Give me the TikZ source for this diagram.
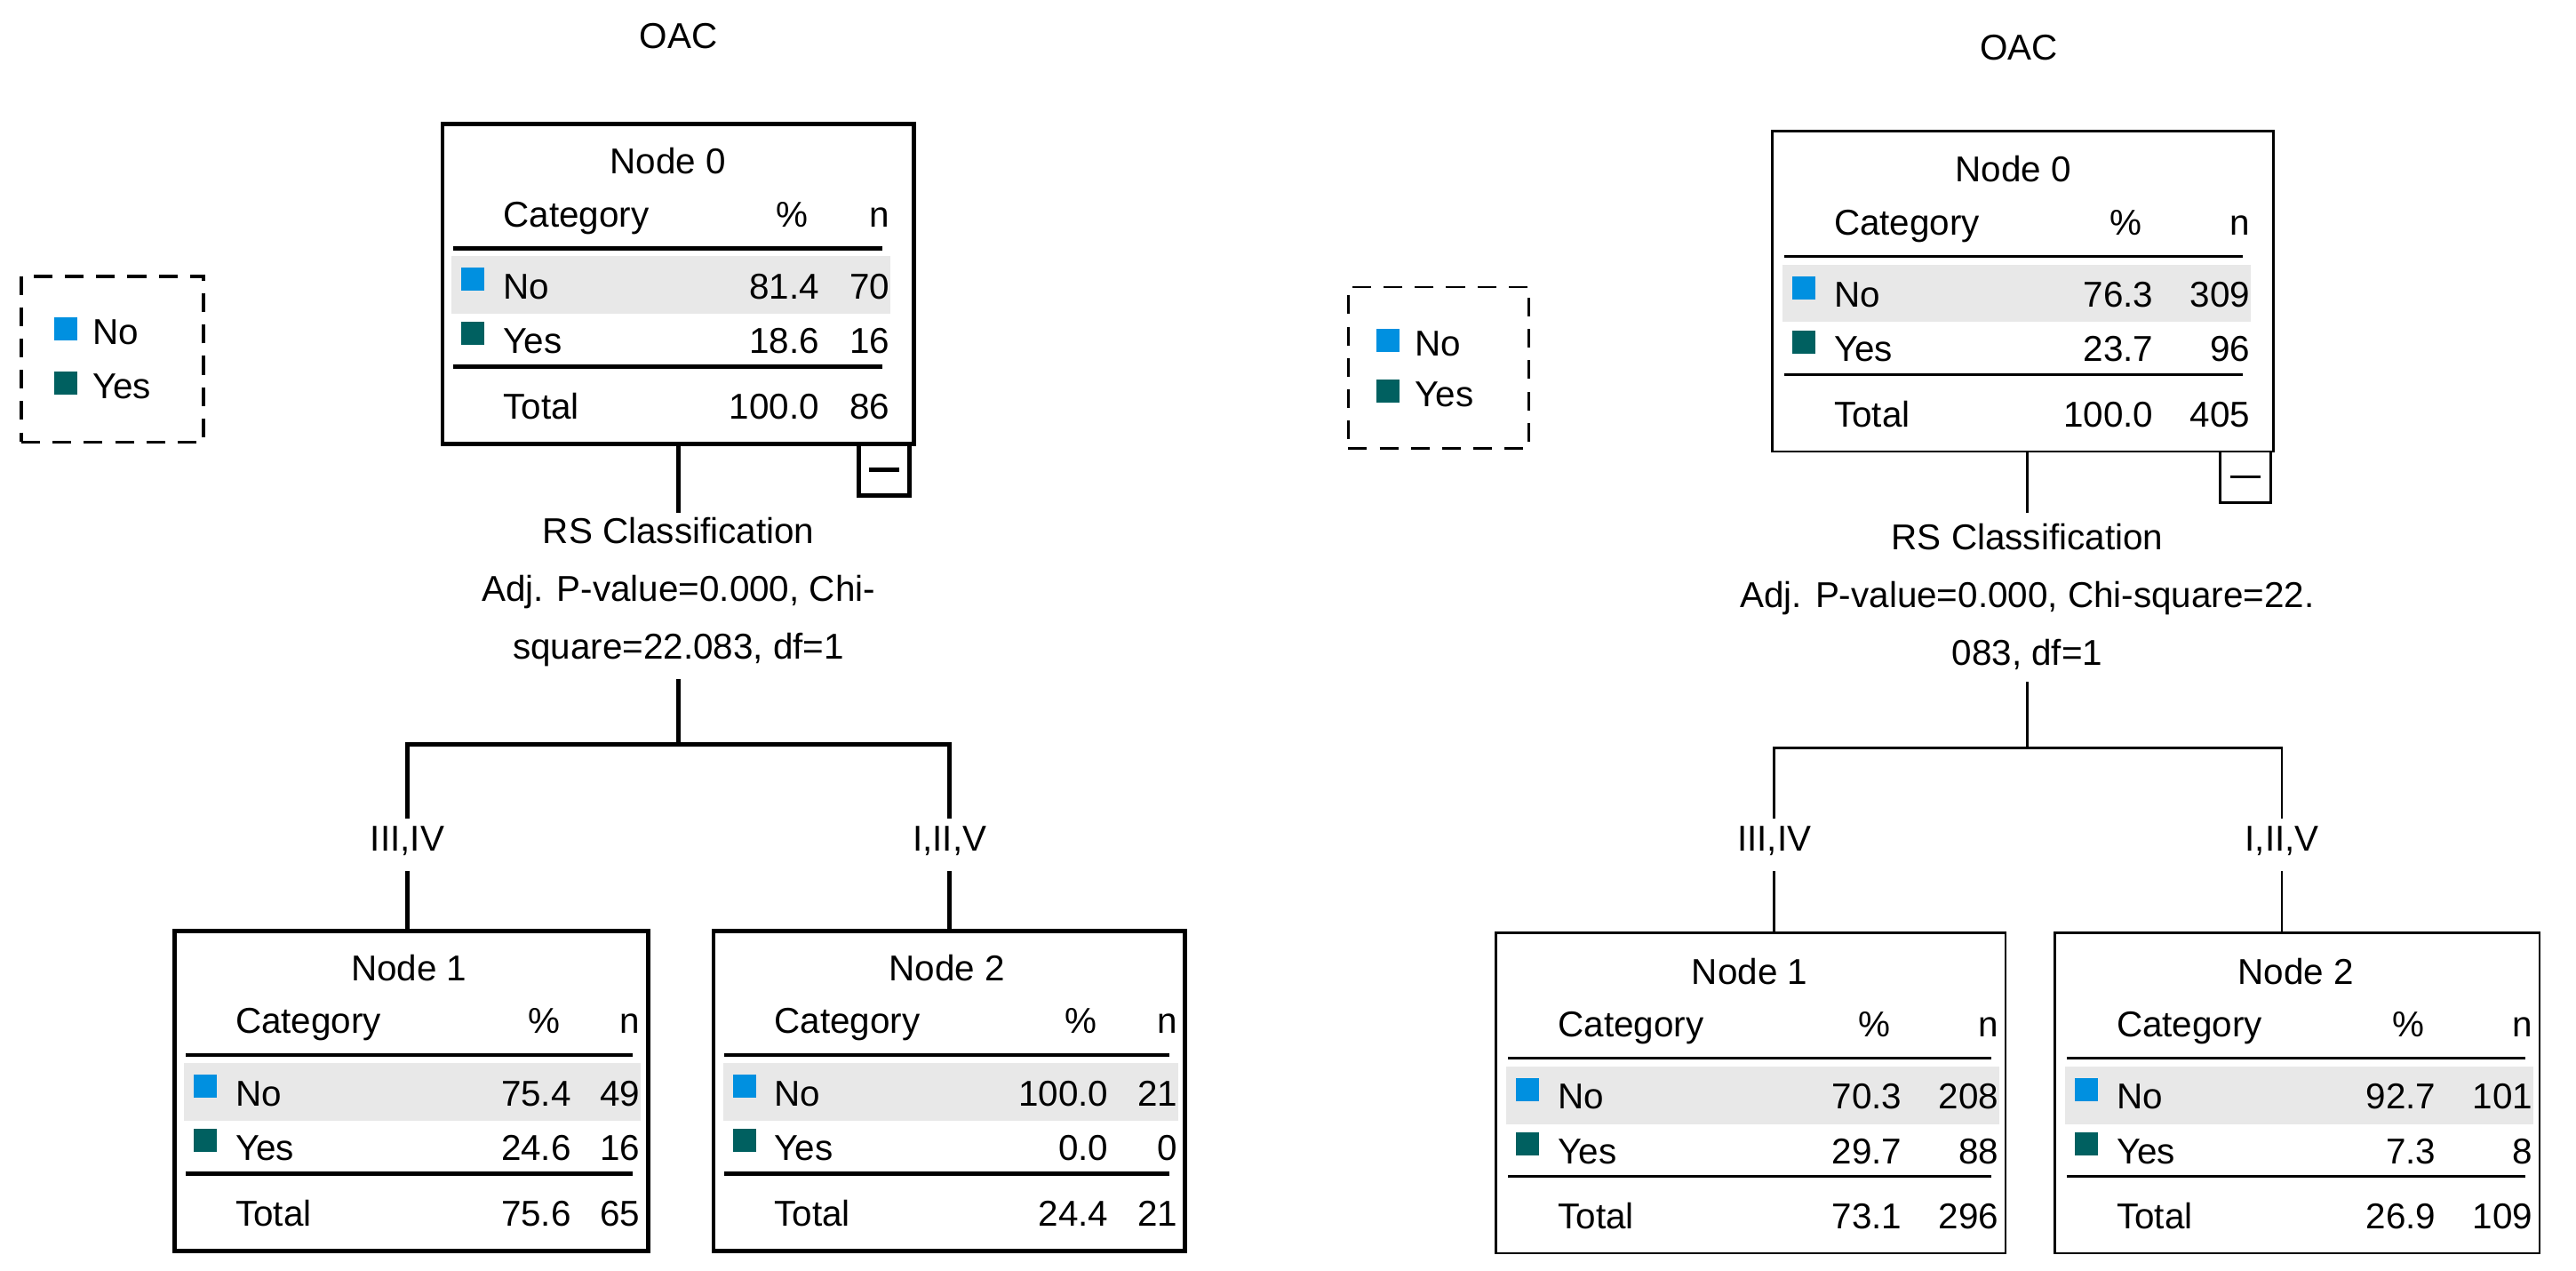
\documentclass[tikz,border=0pt]{standalone}
\usepackage{fontspec}
\usetikzlibrary{calc}
\setmainfont{Liberation Sans}
\definecolor{cno}{HTML}{0090E0}
\definecolor{cyes}{HTML}{006060}
\definecolor{band}{HTML}{E8E8E8}
\tikzset{
  txt/.style={inner sep=0pt,font=\fontsize{11.5}{13}\selectfont},
  lbl/.style={txt,align=center,font=\fontsize{11.5}{18.5}\selectfont},
  sq/.style={inner sep=0pt,minimum size=0.26cm},
  legbox/.style={draw,dash pattern=on 6pt off 4pt},
}
\def\noff{3}
\newcommand{\tbl}[9]{%
  \node[draw,box,minimum width={(#4-#2)*0.01849cm},minimum height=195*0.01849cm,anchor=north west,inner sep=0pt] (#1) at (#2,#3) {};
  \fill[band] ({#2+7},{#3+82}) rectangle ({#4-\noff},{#3+117});
  \node[txt] (#1t) at ({(#2+#4-\noff+3)/2},{#3+24}) {#5};
  \node[txt,anchor=base west] (#1hc) at ({#2+38},{#3+64}) {Category};
  \node[txt,anchor=base] (#1hp) at ({#4-\pcoff-17},{#3+64}) {\%};
  \node[txt,anchor=base east] (#1hn) at ({#4-\noff},{#3+64}) {n};
  \draw[inner] ({#2+8},{#3+77}) -- ({#4-\noff-5},{#3+77});
  \node[sq,fill=cno] (#1sn) at ({#2+20},{#3+96}) {};
  \node[txt,anchor=base west] (#1rn) at ({#2+38},{#3+108}) {No};
  \node[txt,anchor=base east] (#1pn) at ({#4-\pcoff},{#3+108}) {#6};
  \node[txt,anchor=base east] (#1nn) at ({#4-\noff},{#3+108}) {#7};
  \node[sq,fill=cyes] (#1sy) at ({#2+20},{#3+129}) {};
  \node[txt,anchor=base west] (#1ry) at ({#2+38},{#3+141}) {Yes};
  \node[txt,anchor=base east] (#1py) at ({#4-\pcoff},{#3+141}) {#8};
  \node[txt,anchor=base east] (#1ny) at ({#4-\noff},{#3+141}) {#9};
  \draw[inner] ({#2+8},{#3+149}) -- ({#4-\noff-5},{#3+149});
  \node[txt,anchor=base west] (#1rt) at ({#2+38},{#3+181}) {Total};
  \node[txt,anchor=base east] (#1pt) at ({#4-\pcoff},{#3+181}) {\totp};
  \node[txt,anchor=base east] (#1nt) at ({#4-\noff},{#3+181}) {\totn};
}
\begin{document}
\begin{tikzpicture}[x=0.01849cm,y=-0.01849cm]
\useasboundingbox[fill=white] (0,0) rectangle (1568,773.4);
% ---------------- left tree
\begin{scope}[box/.style={line width=1.4pt},inner/.style={line width=1.4pt},lw/.style={line width=1.4pt}]
\node[txt] (tl) at (413,22) {OAC};
\node[legbox,line width=1.1pt,minimum width=111*0.01849cm,minimum height=101*0.01849cm,anchor=north west,inner sep=0pt] (legl) at (12,167) {};
\node[sq,fill=cno] (legln) at (40,200) {};
\node[txt,anchor=west] (leglnt) at (56,202) {No};
\node[sq,fill=cyes] (leglys) at (40,233) {};
\node[txt,anchor=west] (leglyt) at (56,235) {Yes};
\def\pcoff{56}\def\noff{13}
\def\totp{100.0}\def\totn{86}
\tbl{La}{268}{74}{555}{Node 0}{81.4}{70}{18.6}{16}
\node[draw,lw,minimum size=31*0.01849cm,anchor=north east,inner sep=0pt] (Lm) at (555,269) {};
\draw[lw] ($(Lm.center)+(-9,0)$) -- ($(Lm.center)+(9,0)$);
\def\pcoff{45}\def\noff{3}
\def\totp{75.6}\def\totn{65}
\tbl{Lb}{105}{565}{393}{Node 1}{75.4}{49}{24.6}{16}
\def\totp{24.4}\def\totn{21}
\tbl{Lc}{433}{565}{720}{Node 2}{100.0}{21}{0.0}{0}
\node[lbl] (Ls) at (413,360) {RS Classification\\Adj. P-value=0.000, Chi-\\square=22.083, df=1};
\node[txt] (Ll1) at (248,512) {III,IV};
\node[txt] (Ll2) at (578,512) {I,II,V};
\coordinate (Lj) at (413,453);
\draw[lw] (Lj |- La.south) -- (413,312);
\draw[lw] (413,413) -- (Lj);
\draw[lw] (Ll1.north |- 0,498) -- (Ll1.north |- Lj) -- (Ll2.north |- Lj) -- (Ll2.north |- 0,498);
\draw[lw] (Ll1.south |- 0,530) -- (Ll1.south |- Lb.north);
\draw[lw] (Ll2.south |- 0,530) -- (Ll2.south |- Lc.north);
\end{scope}
% ---------------- right tree
\begin{scope}[box/.style={line width=0.75pt},inner/.style={line width=0.75pt},lw/.style={line width=0.75pt}]
\node[txt] (tr) at (1229,29) {OAC};
\node[legbox,line width=0.75pt,minimum width=110*0.01849cm,minimum height=98*0.01849cm,anchor=north west,inner sep=0pt] (legr) at (820,174) {};
\node[sq,fill=cno] (legrn) at (845,207) {};
\node[txt,anchor=west] (legrnt) at (861,209) {No};
\node[sq,fill=cyes] (legrys) at (845,238) {};
\node[txt,anchor=west] (legryt) at (861,240) {Yes};
\def\pcoff{72}\def\noff{13}
\def\totp{100.0}\def\totn{405}
\tbl{Ra}{1078}{79}{1383}{Node 0}{76.3}{309}{23.7}{96}
\node[draw,lw,minimum size=31*0.01849cm,anchor=north east,inner sep=0pt] (Rm) at (1383,274) {};
\draw[lw] ($(Rm.center)+(-9,0)$) -- ($(Rm.center)+(9,0)$);
\def\pcoff{62}\def\noff{3}
\def\totp{73.1}\def\totn{296}
\tbl{Rb}{910}{567}{1220}{Node 1}{70.3}{208}{29.7}{88}
\def\totp{26.9}\def\totn{109}
\tbl{Rc}{1250}{567}{1545}{Node 2}{92.7}{101}{7.3}{8}
\node[lbl] (Rs) at (1234,363) {RS Classification\\Adj. P-value=0.000, Chi-square=22.\\083, df=1};
\node[txt] (Rl1) at (1080,512) {III,IV};
\node[txt] (Rl2) at (1389,512) {I,II,V};
\coordinate (Rj) at (1234,455);
\draw[lw] (Rj |- Ra.south) -- (1234,312);
\draw[lw] (1234,415) -- (Rj);
\draw[lw] (Rl1.north |- 0,498) -- (Rl1.north |- Rj) -- (Rl2.north |- Rj) -- (Rl2.north |- 0,498);
\draw[lw] (Rl1.south |- 0,530) -- (Rl1.south |- Rb.north);
\draw[lw] (Rl2.south |- 0,530) -- (Rl2.south |- Rc.north);
\end{scope}
\end{tikzpicture}
\end{document}
